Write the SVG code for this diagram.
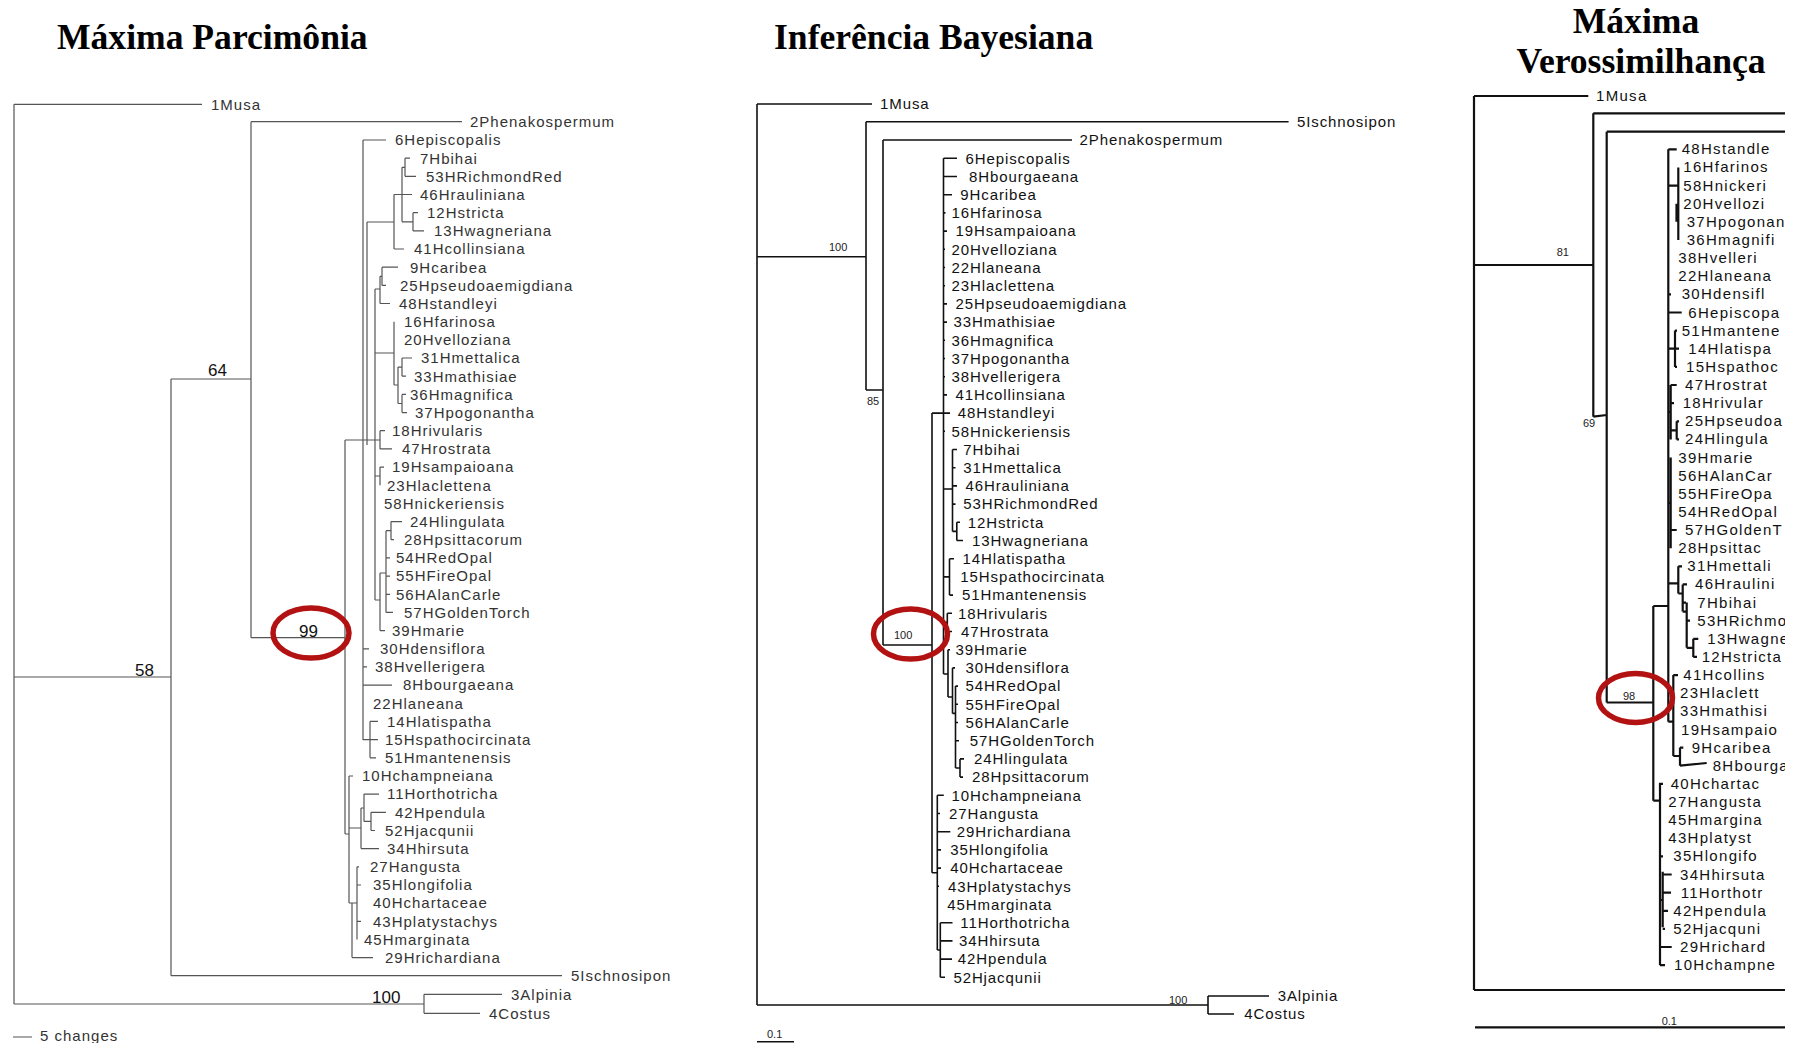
<svg xmlns="http://www.w3.org/2000/svg" width="1798" height="1043" viewBox="0 0 1798 1043">
<style>
.title{font-family:"Liberation Serif","Times New Roman",serif;font-weight:bold;font-size:35.6px;fill:#000}
.tmp{font-family:"Liberation Sans",Arial,sans-serif;font-size:15px;letter-spacing:1px;fill:#333}
.tbi{font-family:"Liberation Sans",Arial,sans-serif;font-size:15px;letter-spacing:0.9px;fill:#111}
.tml{font-family:"Liberation Sans",Arial,sans-serif;font-size:15px;letter-spacing:1.3px;fill:#111}
.nmp{font-family:"Liberation Sans",Arial,sans-serif;font-size:17px;fill:#111}
.nsm{font-family:"Liberation Sans",Arial,sans-serif;font-size:11px;fill:#222}
.emp{fill:none;stroke:#555;stroke-width:1.2}
.ebi{fill:none;stroke:#111;stroke-width:1.6}
.eml{fill:none;stroke:#111;stroke-width:2.2}
.ring{fill:none;stroke:#B31212;stroke-width:5.5}
</style>
<defs><clipPath id="cr"><rect x="0" y="0" width="1785" height="1043"/></clipPath></defs>
<rect width="1798" height="1043" fill="#fff"/>

<g id="titles">
<text class="title" x="57" y="49">Máxima Parcimônia</text>
<text class="title" x="774" y="49">Inferência Bayesiana</text>
<text class="title" x="1636" y="33" text-anchor="middle">Máxima</text>
<text class="title" x="1641" y="73" text-anchor="middle">Verossimilhança</text>
</g>

<!-- ========== MP tree ========== -->
<g id="mp-connectors">
<path class="emp" d="M14,104.3H202M14,104.3V1004M14,677H171M171,379V975.7M171,379H251M171,975.7H562M251,121.7H462M251,121.7V637.7M251,637.7H345M14,1004H424M424,994.3V1013.3M424,994.3H502M424,1013.3H480M13,1037H32
M345,440V834M345,440H380M363,140V740M363,140H386M367,222V445M367,222H394M394,194.5V249M394,249H404M394,194.5H412M402,167.3V221.8M402,167.3H405M405,158.2V176.3M405,158.2H410M405,176.3H416M402,221.8H413M413,212.7V230.9M413,212.7H418M413,230.9H424
M375,289V600M375,289H380M380,276.3V303.5M380,303.5H390M380,276.3H382M382,267.2V285.4M382,267.2H398M382,285.4H386
M375,353H394M394,321.7V385M394,385H398M398,367.1V403.5M398,367.1H402M402,358V376.2M402,358H412M402,376.2H406M398,403.5H402M402,394.4V412.6M402,394.4H406M402,412.6H407
M380,430.7V448.9M380,430.7H385M380,448.9H392M375,476H380M380,467.1V485.2M380,467.1H384
M375,600H380M380,573V630.6M380,630.6H385M380,573H386M386,530.7V612.4M386,530.7H391M391,521.6V539.7M391,521.6H402M391,539.7H394M386,557.9H390M386,576.1H390M386,594.3H390M386,612.4H393
M363,648.8H369M363,666.9H367M363,685.1H392M363,739.6H378M370,721.4V757.8M370,721.4H378M370,757.8H376
M345,834H349M349,776V903M349,776H353M349,828H361M361,808V848.6M361,848.6H379M361,808H364M364,794.1V821.4M364,794.1H379M364,821.4H371M371,812.3V830.5M371,812.3H386M371,830.5H375
M349,903H357M352,903V957.6M352,957.6H373M357,866.8V939.5M357,866.8H359M357,885H361M357,921.3H361"/>
</g>
<ellipse class="ring" cx="311" cy="633" rx="38" ry="25"/>
<g id="mp-values">
<text class="nmp" x="208" y="376">64</text>
<text class="nmp" x="135" y="676">58</text>
<text class="nmp" x="299" y="636.5">99</text>
<text class="nmp" x="372" y="1003">100</text>
</g>
<g id="mp-nodes" class="tmp">
<g id="mp-1"><text x="211" y="109.6">1Musa</text></g>
<g id="mp-2"><text x="470" y="127.3">2Phenakospermum</text></g>
<g id="mp-6"><text x="395" y="145.3">6Hepiscopalis</text></g>
<g id="mp-7"><text x="420" y="163.5">7Hbihai</text></g>
<g id="mp-53"><text x="426" y="181.6">53HRichmondRed</text></g>
<g id="mp-46"><text x="420" y="199.8">46Hrauliniana</text></g>
<g id="mp-12"><text x="427" y="218">12Hstricta</text></g>
<g id="mp-13"><text x="434" y="236.2">13Hwagneriana</text></g>
<g id="mp-41"><text x="414" y="254.3">41Hcollinsiana</text></g>
<g id="mp-9"><text x="410" y="272.5">9Hcaribea</text></g>
<g id="mp-25"><text x="400" y="290.7">25Hpseudoaemigdiana</text></g>
<g id="mp-48"><text x="399" y="308.8">48Hstandleyi</text></g>
<g id="mp-16"><text x="404" y="327">16Hfarinosa</text></g>
<g id="mp-20"><text x="404" y="345.2">20Hvelloziana</text></g>
<g id="mp-31"><text x="421" y="363.3">31Hmettalica</text></g>
<g id="mp-33"><text x="414" y="381.5">33Hmathisiae</text></g>
<g id="mp-36"><text x="410" y="399.7">36Hmagnifica</text></g>
<g id="mp-37"><text x="415" y="417.9">37Hpogonantha</text></g>
<g id="mp-18"><text x="392" y="436">18Hrivularis</text></g>
<g id="mp-47"><text x="402" y="454.2">47Hrostrata</text></g>
<g id="mp-19"><text x="392" y="472.4">19Hsampaioana</text></g>
<g id="mp-23"><text x="387" y="490.5">23Hlaclettena</text></g>
<g id="mp-58"><text x="384" y="508.7">58Hnickeriensis</text></g>
<g id="mp-24"><text x="410" y="526.9">24Hlingulata</text></g>
<g id="mp-28"><text x="404" y="545">28Hpsittacorum</text></g>
<g id="mp-54"><text x="396" y="563.2">54HRedOpal</text></g>
<g id="mp-55"><text x="396" y="581.4">55HFireOpal</text></g>
<g id="mp-56"><text x="396" y="599.6">56HAlanCarle</text></g>
<g id="mp-57"><text x="404" y="617.7">57HGoldenTorch</text></g>
<g id="mp-39"><text x="392" y="635.9">39Hmarie</text></g>
<g id="mp-30"><text x="380" y="654.1">30Hdensiflora</text></g>
<g id="mp-38"><text x="375" y="672.2">38Hvellerigera</text></g>
<g id="mp-8"><text x="403" y="690.4">8Hbourgaeana</text></g>
<g id="mp-22"><text x="373" y="708.6">22Hlaneana</text></g>
<g id="mp-14"><text x="387" y="726.7">14Hlatispatha</text></g>
<g id="mp-15"><text x="385" y="744.9">15Hspathocircinata</text></g>
<g id="mp-51"><text x="385" y="763.1">51Hmantenensis</text></g>
<g id="mp-10"><text x="362" y="781.3">10Hchampneiana</text></g>
<g id="mp-11"><text x="387" y="799.4">11Horthotricha</text></g>
<g id="mp-42"><text x="395" y="817.6">42Hpendula</text></g>
<g id="mp-52"><text x="385" y="835.8">52Hjacqunii</text></g>
<g id="mp-34"><text x="387" y="853.9">34Hhirsuta</text></g>
<g id="mp-27"><text x="370" y="872.1">27Hangusta</text></g>
<g id="mp-35"><text x="373" y="890.3">35Hlongifolia</text></g>
<g id="mp-40"><text x="373" y="908.4">40Hchartaceae</text></g>
<g id="mp-43"><text x="373" y="926.6">43Hplatystachys</text></g>
<g id="mp-45"><text x="364" y="944.8">45Hmarginata</text></g>
<g id="mp-29"><text x="385" y="962.9">29Hrichardiana</text></g>
<g id="mp-5"><text x="571" y="981">5Ischnosipon</text></g>
<g id="mp-3"><text x="511" y="999.6">3Alpinia</text></g>
<g id="mp-4"><text x="489" y="1018.6">4Costus</text></g>
<g id="mp-scale"><text x="40" y="1041">5 changes</text></g>
</g>

<!-- ========== Bayesian tree ========== -->
<g id="bi-connectors">
<path class="ebi" d="M757,104V1005M757,104H872M757,256.7H866M866,121.7V390M866,121.7H1288.6M866,390H883M883,140V645M883,140H1072M883,645H932M932,413.1V872.7M932,413.1H950M943.5,158.3V674
M943.5,158.3H957M943.5,176.5H957M943.5,194.7H952M943.5,212.9H945.5M943.5,231.1H947M943.5,249.3H945M943.5,267.5H945M943.5,285.7H945M943.5,303.9H947M943.5,322.1H947M943.5,340.3H945M943.5,358.5H945M943.5,376.7H945M943.5,394.9H947M943.5,431.3H945
M943.5,489H952.5M952.5,449.5V531.4M952.5,449.5H957M952.5,467.7H955.5M952.5,485.9H957M952.5,504.1H955.5M952.5,531.4H956.8M956.8,522.3V540.5M956.8,522.3H960M956.8,540.5H963
M943.5,576.9H949.5M949.5,558.7V595.1M949.5,558.7H954M949.5,595.1H953M943.5,622.4H947.3M947.3,613.3V631.5M947.3,613.3H952M947.3,631.5H952
M943.5,674H948M948,649.7V697M948,649.7H950M948,697H952.5M952.5,667.9V713.4M952.5,667.9H955M952.5,713.4H955.5M955.5,686.1V768M955.5,686.1H958M955.5,704.3H958M955.5,722.5H958M955.5,740.7H959M955.5,768H960M960,758.9V777.1M960,758.9H964M960,777.1H963
M932,872.7H937.3M937.3,795.3V950M937.3,795.3H943.8M937.3,813.5H940M937.3,831.7H950.3M937.3,849.9H941M937.3,868.1H941M937.3,886.3H939M937.3,950H940.3M940.3,922.7V977.3M940.3,922.7H952.5M940.3,940.9H952.5M940.3,959.1H952M940.3,977.3H945
M757,1005H1208M1208,996V1014M1208,996H1269M1208,1014H1234M757,1041.7H794"/>
</g>
<ellipse class="ring" cx="910.5" cy="634" rx="37" ry="25"/>
<g id="bi-values">
<text class="nsm" x="829" y="251">100</text>
<text class="nsm" x="867" y="405">85</text>
<text class="nsm" x="894" y="639">100</text>
<text class="nsm" x="1169" y="1004">100</text>
<text class="nsm" x="767" y="1038">0.1</text>
</g>
<g id="bi-nodes" class="tbi">
<g id="bi-1"><text x="880" y="109.3">1Musa</text></g>
<g id="bi-5"><text x="1297" y="127">5Ischnosipon</text></g>
<g id="bi-2"><text x="1079.5" y="145.3">2Phenakospermum</text></g>
<g id="bi-6"><text x="965.5" y="163.6">6Hepiscopalis</text></g>
<g id="bi-8"><text x="969" y="181.8">8Hbourgaeana</text></g>
<g id="bi-9"><text x="960.3" y="200">9Hcaribea</text></g>
<g id="bi-16"><text x="951.6" y="218.2">16Hfarinosa</text></g>
<g id="bi-19"><text x="955.5" y="236.4">19Hsampaioana</text></g>
<g id="bi-20"><text x="951.6" y="254.6">20Hvelloziana</text></g>
<g id="bi-22"><text x="951.6" y="272.8">22Hlaneana</text></g>
<g id="bi-23"><text x="951.6" y="291">23Hlaclettena</text></g>
<g id="bi-25"><text x="955.5" y="309.2">25Hpseudoaemigdiana</text></g>
<g id="bi-33"><text x="953.4" y="327.4">33Hmathisiae</text></g>
<g id="bi-36"><text x="951.6" y="345.6">36Hmagnifica</text></g>
<g id="bi-37"><text x="951.6" y="363.8">37Hpogonantha</text></g>
<g id="bi-38"><text x="951.6" y="382">38Hvellerigera</text></g>
<g id="bi-41"><text x="955.5" y="400.2">41Hcollinsiana</text></g>
<g id="bi-48"><text x="957.7" y="418.4">48Hstandleyi</text></g>
<g id="bi-58"><text x="951.6" y="436.6">58Hnickeriensis</text></g>
<g id="bi-7"><text x="963.3" y="454.8">7Hbihai</text></g>
<g id="bi-31"><text x="963.3" y="473">31Hmettalica</text></g>
<g id="bi-46"><text x="965.5" y="491.2">46Hrauliniana</text></g>
<g id="bi-53"><text x="963.3" y="509.4">53HRichmondRed</text></g>
<g id="bi-12"><text x="967.7" y="527.6">12Hstricta</text></g>
<g id="bi-13"><text x="972" y="545.8">13Hwagneriana</text></g>
<g id="bi-14"><text x="962.5" y="564">14Hlatispatha</text></g>
<g id="bi-15"><text x="960.3" y="582.2">15Hspathocircinata</text></g>
<g id="bi-51"><text x="962" y="600.4">51Hmantenensis</text></g>
<g id="bi-18"><text x="958" y="618.6">18Hrivularis</text></g>
<g id="bi-47"><text x="961" y="636.8">47Hrostrata</text></g>
<g id="bi-39"><text x="955.5" y="655">39Hmarie</text></g>
<g id="bi-30"><text x="965.5" y="673.2">30Hdensiflora</text></g>
<g id="bi-54"><text x="965.5" y="691.4">54HRedOpal</text></g>
<g id="bi-55"><text x="965.5" y="709.6">55HFireOpal</text></g>
<g id="bi-56"><text x="965.5" y="727.8">56HAlanCarle</text></g>
<g id="bi-57"><text x="969.8" y="746">57HGoldenTorch</text></g>
<g id="bi-24"><text x="974" y="764.2">24Hlingulata</text></g>
<g id="bi-28"><text x="972" y="782.4">28Hpsittacorum</text></g>
<g id="bi-10"><text x="951.6" y="800.6">10Hchampneiana</text></g>
<g id="bi-27"><text x="949" y="818.8">27Hangusta</text></g>
<g id="bi-29"><text x="956.8" y="837">29Hrichardiana</text></g>
<g id="bi-35"><text x="950.3" y="855.2">35Hlongifolia</text></g>
<g id="bi-40"><text x="950.3" y="873.4">40Hchartaceae</text></g>
<g id="bi-43"><text x="948" y="891.6">43Hplatystachys</text></g>
<g id="bi-45"><text x="947.3" y="909.8">45Hmarginata</text></g>
<g id="bi-11"><text x="960.3" y="928">11Horthotricha</text></g>
<g id="bi-34"><text x="959" y="946.2">34Hhirsuta</text></g>
<g id="bi-42"><text x="957.7" y="964.4">42Hpendula</text></g>
<g id="bi-52"><text x="953.4" y="982.6">52Hjacqunii</text></g>
<g id="bi-3"><text x="1277.7" y="1001.3">3Alpinia</text></g>
<g id="bi-4"><text x="1244.3" y="1019.3">4Costus</text></g>
</g>

<!-- ========== ML tree ========== -->
<g clip-path="url(#cr)">
<g id="ml-connectors">
<path class="eml" d="M1474,96V990M1474,96H1588.3M1474,265H1593.3M1593.3,113.3V416.7M1593.3,113.3H1800M1593.3,416.7L1606.7,415M1606.7,131.7V702.5M1606.7,131.7H1800M1606.7,702.5H1653.3M1653.3,606V800.7M1653.3,606H1668.3M1653.3,800.7H1660M1668.3,149.3V721.7
M1668.3,149.3H1676.7M1668.3,185.6H1678.3M1678.3,167.4V240M1676.5,203.7V221.8M1668.3,294.3H1671M1668.3,312.5H1681.7M1668.3,348.7H1679M1675,330.6V366.9M1675,330.6H1677M1675,366.9H1677
M1668.3,412H1670.7M1670.7,385V439.4M1670.7,385H1676.7M1670.7,403.1H1674M1670.7,430.3H1676.7M1676.7,421.3V439.4M1676.7,421.3H1679M1676.7,439.4H1679
M1668.3,503H1670.7M1670.7,457.5V548.2M1670.7,530H1676.7
M1668.3,583.3H1678.3M1678.3,566.3V593.5M1678.3,566.3H1682M1678.3,593.5H1682.7M1682.7,584.4V611.6M1682.7,584.4H1687M1682.7,602.6H1686M1682.7,611.6H1686.7M1686.7,602.6V647.8M1686.7,620.7H1690M1686.7,647.8H1693.3M1693.3,638.8V656.9M1693.3,638.8H1698.3M1693.3,656.9H1697
M1668.3,721.7H1673.3M1673.3,675.1V756M1673.3,675.1H1678M1673.3,756H1680M1680,747.6V765.7M1680,747.6H1683.3M1680,765.7L1706.7,763
M1660,782.7V965.2M1660,783.9H1663M1660,856.4H1663M1660,900H1662.7M1662.7,871.7V927.3M1662.7,874.5H1671.7M1662.7,892.6H1671M1662.7,910.8H1668M1662.7,928.9H1665M1660,947H1671.7M1660,965.2H1665
M1474,990H1800M1475,1027.3H1800"/>
</g>
<ellipse class="ring" cx="1635.5" cy="698" rx="37" ry="24.5"/>
<g id="ml-values">
<text class="nsm" x="1556.7" y="256">81</text>
<text class="nsm" x="1583" y="427">69</text>
<text class="nsm" x="1623" y="700">98</text>
<text class="nsm" x="1661.7" y="1025">0.1</text>
</g>
<g id="ml-nodes" class="tml">
<g id="ml-1"><text x="1596" y="101">1Musa</text></g>
<g id="ml-48"><text x="1681.7" y="154.3">48Hstandle</text></g>
<g id="ml-16"><text x="1683.3" y="172.4">16Hfarinos</text></g>
<g id="ml-58"><text x="1683.3" y="190.6">58Hnickeri</text></g>
<g id="ml-20"><text x="1683.3" y="208.7">20Hvellozi</text></g>
<g id="ml-37"><text x="1686.7" y="226.8">37Hpogonan</text></g>
<g id="ml-36"><text x="1686.7" y="245">36Hmagnifi</text></g>
<g id="ml-38"><text x="1678.3" y="263.1">38Hvelleri</text></g>
<g id="ml-22"><text x="1678.3" y="281.2">22Hlaneana</text></g>
<g id="ml-30"><text x="1681.7" y="299.3">30Hdensifl</text></g>
<g id="ml-6"><text x="1688.3" y="317.5">6Hepiscopa</text></g>
<g id="ml-51"><text x="1681.7" y="335.6">51Hmantene</text></g>
<g id="ml-14"><text x="1688.3" y="353.7">14Hlatispa</text></g>
<g id="ml-15"><text x="1686" y="371.9">15Hspathoc</text></g>
<g id="ml-47"><text x="1685" y="390">47Hrostrat</text></g>
<g id="ml-18"><text x="1682.7" y="408.1">18Hrivular</text></g>
<g id="ml-25"><text x="1685" y="426.3">25Hpseudoa</text></g>
<g id="ml-24"><text x="1685" y="444.4">24Hlingula</text></g>
<g id="ml-39"><text x="1678.3" y="462.5">39Hmarie</text></g>
<g id="ml-56"><text x="1678.3" y="480.6">56HAlanCar</text></g>
<g id="ml-55"><text x="1678.3" y="498.8">55HFireOpa</text></g>
<g id="ml-54"><text x="1678.3" y="516.9">54HRedOpal</text></g>
<g id="ml-57"><text x="1685" y="535">57HGoldenT</text></g>
<g id="ml-28"><text x="1678.3" y="553.2">28Hpsittac</text></g>
<g id="ml-31"><text x="1687.3" y="571.3">31Hmettali</text></g>
<g id="ml-46"><text x="1695" y="589.4">46Hraulini</text></g>
<g id="ml-7"><text x="1697.3" y="607.6">7Hbihai</text></g>
<g id="ml-53"><text x="1697.3" y="625.7">53HRichmo</text></g>
<g id="ml-13"><text x="1707.3" y="643.8">13Hwagne</text></g>
<g id="ml-12"><text x="1701.7" y="661.9">12Hstricta</text></g>
<g id="ml-41"><text x="1683.3" y="680.1">41Hcollins</text></g>
<g id="ml-23"><text x="1680" y="698.2">23Hlaclett</text></g>
<g id="ml-33"><text x="1680" y="716.3">33Hmathisi</text></g>
<g id="ml-19"><text x="1681" y="734.5">19Hsampaio</text></g>
<g id="ml-9"><text x="1691.7" y="752.6">9Hcaribea</text></g>
<g id="ml-8"><text x="1712.7" y="770.7">8Hbourga</text></g>
<g id="ml-40"><text x="1670.7" y="788.9">40Hchartac</text></g>
<g id="ml-27"><text x="1668.3" y="807">27Hangusta</text></g>
<g id="ml-45"><text x="1668.3" y="825.1">45Hmargina</text></g>
<g id="ml-43"><text x="1668.3" y="843.2">43Hplatyst</text></g>
<g id="ml-35"><text x="1673.3" y="861.4">35Hlongifo</text></g>
<g id="ml-34"><text x="1680" y="879.5">34Hhirsuta</text></g>
<g id="ml-11"><text x="1680.7" y="897.6">11Horthotr</text></g>
<g id="ml-42"><text x="1673.3" y="915.8">42Hpendula</text></g>
<g id="ml-52"><text x="1673.3" y="933.9">52Hjacquni</text></g>
<g id="ml-29"><text x="1680" y="952">29Hrichard</text></g>
<g id="ml-10"><text x="1674" y="970.2">10Hchampne</text></g>
</g>
</g>
</svg>
